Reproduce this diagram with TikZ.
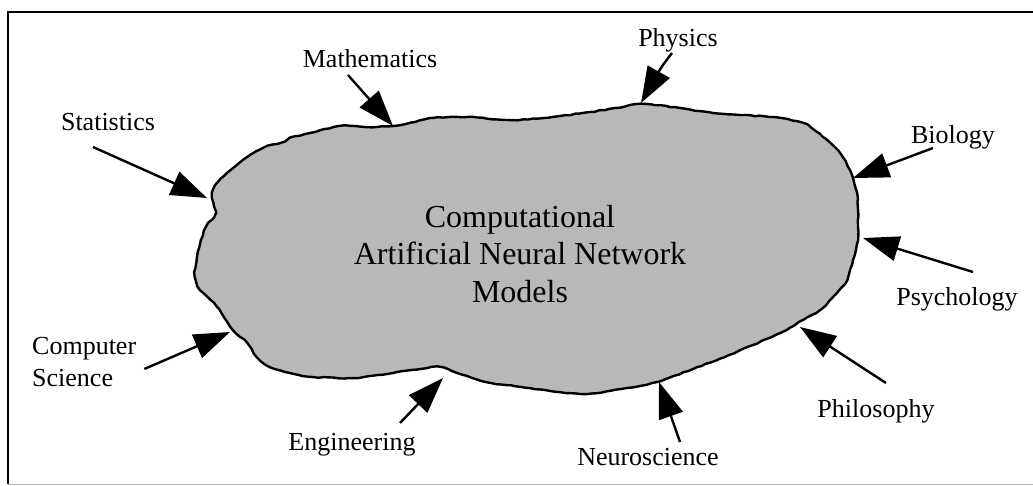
\documentclass[tikz,border=0pt]{standalone}
\usepackage{fontspec}
\setmainfont{Liberation Serif}
\usetikzlibrary{arrows.meta,positioning,calc,decorations.pathmorphing}
\definecolor{blobgray}{RGB}{184,184,184}

\begin{document}
\begin{tikzpicture}[x=1pt,y=-1pt,
  field/.style={font=\fontsize{26}{32}\selectfont,inner sep=0pt},
  arr/.style={-{Triangle[length=36pt,width=25pt]},line width=2.4pt},
  blob/.style={fill=blobgray,draw=black,line width=2.4pt,line join=round}
]
\useasboundingbox (0,0) rectangle (1033,485);
\draw[line width=2pt] (1033,12) -- (8,12) -- (8,484);
\draw[black!30,line width=1pt] (8,484) -- (1033,484);

% the field itself
\pgfmathsetseed{11}
\filldraw[blob,decorate,decoration={random steps,segment length=5pt,amplitude=0.5pt}]
  plot[smooth cycle,tension=0.45] coordinates {
  (213,190) (217,183) (227,173) (243,160) (263,148) (280,143) (290,138)
  (310,133) (340,126) (367,127) (393,126) (405,124) (433,118) (467,117)
  (513,120) (560,116) (590,112) (615,108) (641,104) (680,108) (713,113)
  (740,115) (773,117) (803,123) (823,137) (840,153) (850,170) (853,178)
  (857,193) (858,210) (858,227) (858,240) (853,260) (847,280) (833,297)
  (820,310) (803,320) (780,333) (753,345) (729,355) (693,369) (657,382)
  (621,389) (586,394) (550,391) (521,387) (486,382) (457,373) (437,367)
  (393,373) (354,378) (313,377) (290,373) (270,367) (257,357) (247,343)
  (233,330) (217,307) (200,290) (195,277) (197,257) (201,240) (206,227)
  (214,217) (214,207) (212,198)};
\node[font=\fontsize{32}{37.5}\selectfont,align=center] (anns) at (520,254)
  {Computational\\Artificial Neural Network\\Models};

% contributing fields
\node[field,anchor=base] (stat) at (108,130) {Statistics};
\node[field,anchor=base] (math) at (370,67) {Mathematics};
\node[field,anchor=base] (phys) at (678,46) {Physics};
\node[field,anchor=base] (bio) at (953,143) {Biology};
\node[field,anchor=base] (psy) at (957,305) {Psychology};
\node[field,anchor=base] (phil) at (876,417) {Philosophy};
\node[field,anchor=base] (neuro) at (648,465) {Neuroscience};
\node[field,anchor=base] (eng) at (352,450) {Engineering};
\node[field,anchor=north west,align=left] (cs) at (32,337) {Computer\\Science};

\coordinate (statTip) at (207,198);
\coordinate (mathTip) at (393,126);
\coordinate (physTip) at (641,103);
\coordinate (bioTip) at (853,178);
\coordinate (psyTip) at (863,238);
\coordinate (philTip) at (800,327);
\coordinate (neuroTip) at (659,382);
\coordinate (engTip) at (443,378);
\coordinate (csTip) at (230,332);

\draw[arr] ([shift={(-15,17)}]stat.base) -- (statTip);
\draw[arr] ([shift={(-22,8)}]math.base) -- (mathTip);
\draw[arr] ([shift={(-6,7)}]phys.base) .. controls (662,66) .. (physTip);
\draw[arr] ([shift={(-20,5)}]bio.base) -- (bioTip);
\draw[arr] ([shift={(16,-33)}]psy.base) -- (psyTip);
\draw[arr] ([shift={(10,-34)}]phil.base) -- (philTip);
\draw[arr] ([shift={(32,-23)}]neuro.base) -- (neuroTip);
\draw[arr] ([shift={(48,-27)}]eng.base) -- (engTip);
\draw[arr] ([shift={(8,7)}]cs.east) -- (csTip);
\end{tikzpicture}
\end{document}
